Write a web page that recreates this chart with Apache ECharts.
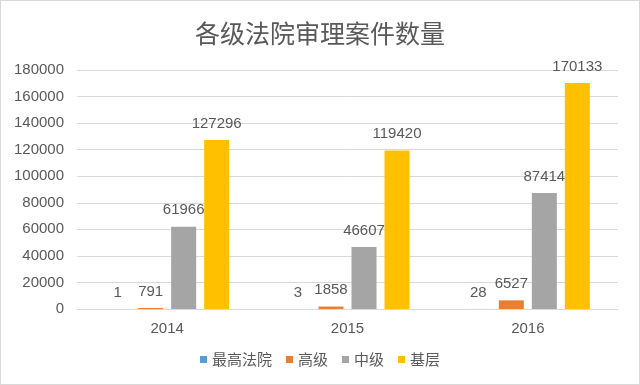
<!DOCTYPE html>
<html><head><meta charset="utf-8">
<script src="https://cdn.jsdelivr.net/npm/echarts@6/dist/echarts.min.js"></script>
<style>html,body{margin:0;padding:0;background:#fff}#c{width:638px;height:383px;border:1px solid #d9d9d9}</style>
</head><body><div id="c"></div>
<script>
const categories = ['2014', '2015', '2016'];
const seriesNames = ['最高法院', '高级', '中级', '基层'];
const supremeCourt = [1, 3, 28];
const highCourt = [791, 1858, 6527];
const intermediateCourt = [61966, 46607, 87414];
const basicCourt = [127296, 119420, 170133];
const colors = ['#5b9bd5', '#ed7d31', '#a5a5a5', '#ffc000'];
const values = [supremeCourt, highCourt, intermediateCourt, basicCourt];
const chart = echarts.init(document.getElementById('c'));
const font = '"Liberation Sans", "Noto Sans CJK SC", sans-serif';
chart.setOption({
  animation: false,
  textStyle: {fontFamily: font},
  title: {text: '各级法院审理案件数量', left: 'center', top: 15,
    textStyle: {fontSize: 25, fontWeight: 'normal', color: '#595959', fontFamily: '"Noto Sans CJK SC", sans-serif'}},
  legend: {bottom: 12, left: 'center', itemWidth: 7, itemHeight: 7, itemGap: 14, icon: 'rect',
    textStyle: {fontSize: 15, color: '#595959', fontFamily: '"Noto Sans CJK SC", sans-serif'}, data: seriesNames},
  grid: {left: 76, right: 21, top: 69, bottom: 75},
  xAxis: {type: 'category', data: categories,
    axisLine: {lineStyle: {color: '#d9d9d9'}}, axisTick: {show: false},
    axisLabel: {fontSize: 15, color: '#595959', margin: 12}},
  yAxis: {type: 'value', min: 0, max: 180000, interval: 20000,
    axisLine: {show: false}, axisTick: {show: false},
    splitLine: {lineStyle: {color: '#d9d9d9'}},
    axisLabel: {fontSize: 15, color: '#595959', margin: 13, formatter: v => String(v)}},
  series: seriesNames.map((n, i) => ({
    name: n, type: 'bar', data: values[i], barWidth: 25, barGap: '32%',
    itemStyle: {color: colors[i]},
    label: {show: true, position: 'top', distance: 9, fontSize: 15, color: '#595959'}
  }))
});
</script></body></html>
